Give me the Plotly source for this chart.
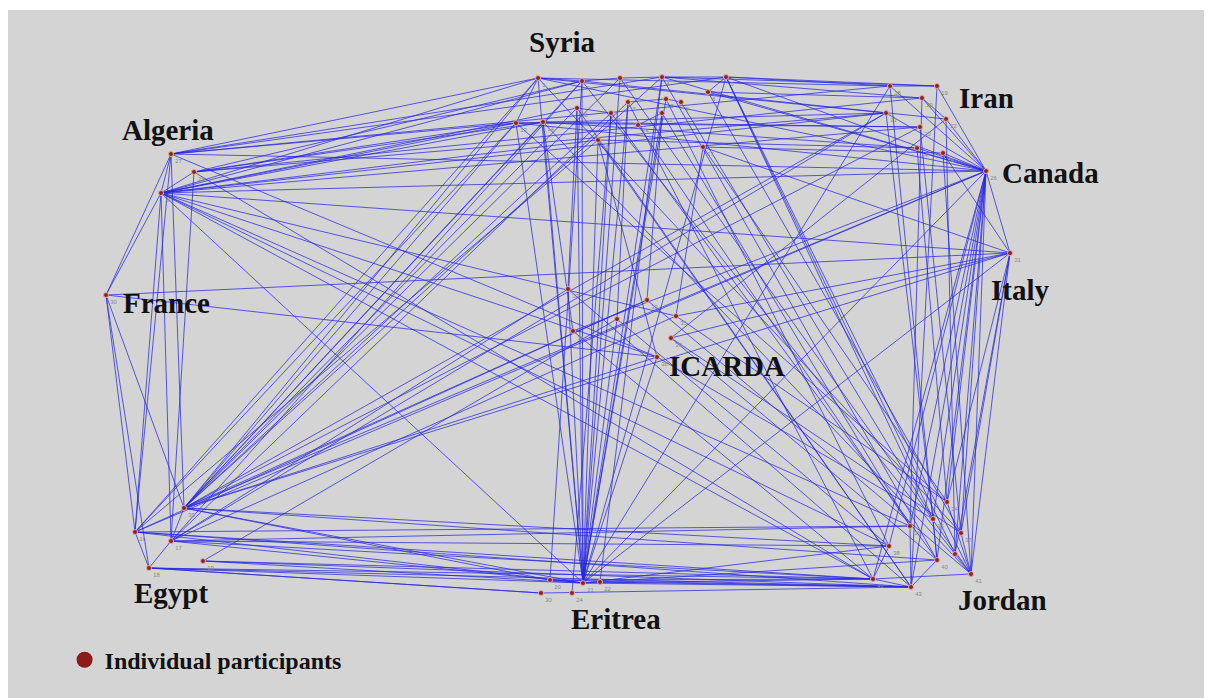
import plotly.graph_objects as go

# ---------------- data ----------------
node_names = ["S0","S1","S2","S3","S4","S5","S6","S7","S8","S9","S10","S11","S12","S13","S14","S15","S16",
              "I0","I1","I2","I3","I4","I5","I6","I7","C",
              "A0","A1","A2","F","It",
              "K0","K1","K2","K3","K4","K5","K6",
              "E0","E1","E2","E3","E4",
              "R0","R1","R2","R3","R4",
              "J0","J1","J2","J3","J4","J5","J6","J7","J8","J9"]
node_x = [538,582,620,662,726,708,628,666,681,577,611,662,516,543,638,598,703,
          890,937,922,886,946,920,917,943,986,
          171,194,161,106,1010,
          568,647,617,676,573,671,657,
          184,135,171,149,203,
          550,583,600,541,572,
          947,933,910,961,889,955,937,971,873,911]
node_y = [78,81,78,77,77,92,102,99,102,108,113,113,123,122,125,140,147,
          86,86,98,113,119,127,148,153,171,
          154,172,193,295,253,
          289,300,319,316,331,338,357,
          508,532,541,568,561,
          580,583,582,593,593,
          502,519,526,533,546,554,560,574,579,587]
node_ids = ["1","2","3","4","5","6","7","8","9","10","11","12","13","14","15","16","17",
            "18","19","20","21","22","23","24","25","26",
            "27","28","29","30","31",
            "32","33","34","35","36","37","38",
            "39","16","17","18","19",
            "20","21","22","30","24",
            "34","35","36","37","38","39","40","41","42","43"]

edges = [
 ("A0","S0"),("A0","S3"),("A0","S4"),("A0","S12"),("A0","C"),("A0","I0"),("A0","F"),("A0","E0"),("A0","A2"),("A0","K6"),
 ("A1","S12"),("A1","S13"),("A1","S1"),("A1","I2"),("A1","I3"),("A1","A2"),("A1","E2"),("A1","J8"),
 ("A2","S0"),("A2","S1"),("A2","S12"),("A2","S13"),("A2","S9"),("A2","S15"),("A2","I3"),("A2","I5"),("A2","C"),
 ("A2","J4"),("A2","J8"),("A2","J2"),("A2","E1"),("A2","E2"),("A2","F"),("A2","R1"),("A2","K6"),("A2","It"),
 ("F","E1"),("F","E3"),("F","It"),("F","K6"),("F","E0"),
 ("E0","S0"),("E0","S1"),("E0","S2"),("E0","S3"),("E0","S12"),("E0","S13"),("E0","S9"),("E0","S10"),("E0","C"),
 ("E0","It"),("E0","J6"),("E0","K6"),("E0","K1"),("E0","R1"),("E0","I3"),("E0","I5"),("E0","E2"),("E0","J4"),
 ("E1","S0"),("E1","S12"),("E1","J8"),("E1","R1"),("E1","E3"),("E1","A0"),("E1","S15"),("E1","C"),("E1","J2"),
 ("E2","R1"),("E2","J2"),("E2","J8"),("E2","S1"),("E2","S6"),("E2","K3"),("E2","E3"),
 ("E3","J9"),("E3","R3"),("E3","R1"),
 ("E4","J8"),("E4","R1"),
 ("R1","S0"),("R1","S1"),("R1","S2"),("R1","S3"),("R1","S4"),("R1","S6"),("R1","S7"),("R1","S9"),("R1","S10"),
 ("R1","S12"),("R1","S13"),("R1","S15"),("R1","S11"),("R1","I0"),("R1","C"),("R1","It"),("R1","J4"),("R1","J8"),
 ("R1","J9"),("R1","J6"),("R1","K2"),("R1","K6"),("R1","K0"),
 ("R0","J8"),("R0","E0"),("R0","S1"),("R2","J9"),("R2","S3"),("R3","E3"),("R4","S10"),
 ("C","J0"),("C","J1"),("C","J2"),("C","J3"),("C","J4"),("C","J5"),("C","J6"),("C","J7"),("C","J8"),("C","J9"),
 ("C","I0"),("C","I1"),("C","I2"),("C","I3"),("C","I4"),("C","I6"),("C","I7"),("C","S4"),("C","S3"),("C","S5"),
 ("C","S0"),("C","S12"),("C","K4"),("C","It"),
 ("It","J7"),("It","J3"),("It","J5"),("It","K3"),("It","J0"),("It","I7"),("It","K5"),("It","S16"),
 ("I0","S0"),("I0","S4"),("I1","S4"),("I1","S3"),("I2","S3"),("I2","S5"),("I3","S0"),("I3","S12"),("I4","S1"),
 ("I5","S13"),("I5","S12"),("I6","S13"),("I6","S15"),("I7","S16"),("I6","J0"),("I5","J3"),("I4","J5"),("I7","J7"),
 ("I3","J1"),("I0","J6"),("I2","J2"),("I1","J9"),("I3","E2"),("I0","I1"),("I2","I4"),
 ("S4","J5"),("S4","J1"),("S4","J7"),("S2","J7"),("S3","J6"),("S16","J0"),("S8","J1"),("S5","J3"),("S11","J2"),
 ("S7","J4"),("S6","J8"),("S9","J9"),("S10","J6"),("S14","J2"),("S0","J3"),("S12","J0"),("S13","J7"),("S1","J5"),
 ("S15","J9"),
 ("K0","J9"),("K1","J7"),("K2","J4"),("K3","J0"),("K4","J8"),("K5","J3"),("K6","J1"),("K0","S9"),("K1","S11"),
 ("K2","S6"),("K3","S16"),("K4","S13"),("K5","I4"),("K6","S15"),("K1","E1"),("K0","E2"),("K3","A2"),("K2","E4"),
 ("K5","J6"),
 ("S0","S1"),("S1","S2"),("S2","S3"),("S3","S4"),("S0","S12"),("S4","S5"),("S9","S10"),("S6","S7"),("S7","S8"),
 ("S11","S14"),
 ("J0","J7"),("J1","J6"),("J2","J9"),("J3","J7"),("J4","J8"),("J5","J7"),("J8","J9"),("J6","J9"),("J8","J7"),
 ("E2","J4"),("E4","J9"),("E3","J8"),("E1","J9"),("R3","J9"),("R0","J9"),
]

country_labels = ["Syria","Iran","Algeria","Canada","France","Italy","ICARDA","Egypt","Eritrea","Jordan"]
label_x = [562, 986, 168, 1050, 166, 1020, 727, 171, 616, 1002]
label_y = [42, 98, 130, 173, 303, 290, 366, 593, 619, 600]
legend_label = "Individual participants"

# ---------------- figure ----------------
pos = {n: (x, y) for n, x, y in zip(node_names, node_x, node_y)}
ex, ey = [], []
for a, b in edges:
    ex += [pos[a][0], pos[b][0], None]
    ey += [pos[a][1], pos[b][1], None]

fig = go.Figure()
fig.add_trace(go.Scatter(x=ex, y=ey, mode="lines", hoverinfo="skip", showlegend=False,
                         line=dict(color="rgba(40,40,225,0.75)", width=1)))
fig.add_trace(go.Scatter(x=node_x, y=node_y, mode="markers+text", showlegend=False,
                         text=node_ids, textposition="bottom right",
                         textfont=dict(size=6, color="#8a8a8a", family="Liberation Sans"),
                         marker=dict(size=5, color="#8b2323", line=dict(color="#e3a7a0", width=1))))
fig.add_trace(go.Scatter(x=[None], y=[None], mode="markers", name="<b>" + legend_label + "</b>",
                         marker=dict(size=16, color="#8b1a1a")))

for t, x, y in zip(country_labels, label_x, label_y):
    fig.add_annotation(x=x, y=y, text="<b>" + t + "</b>", showarrow=False,
                       font=dict(family="Liberation Serif", size=29, color="#111111"))

fig.update_layout(
    width=1204, height=690,
    margin=dict(l=0, r=0, t=2, b=0),
    paper_bgcolor="white", plot_bgcolor="#d4d4d4",
    xaxis=dict(range=[8, 1212], visible=False, fixedrange=True),
    yaxis=dict(range=[698, 10], visible=False, fixedrange=True),
    showlegend=True,
    legend=dict(x=0.047, y=0.055, xanchor="left", yanchor="middle", bgcolor="rgba(0,0,0,0)",
                font=dict(family="Liberation Serif", size=24, color="#111111"),
                itemsizing="trace"),
)
fig.write_html("out.html")
